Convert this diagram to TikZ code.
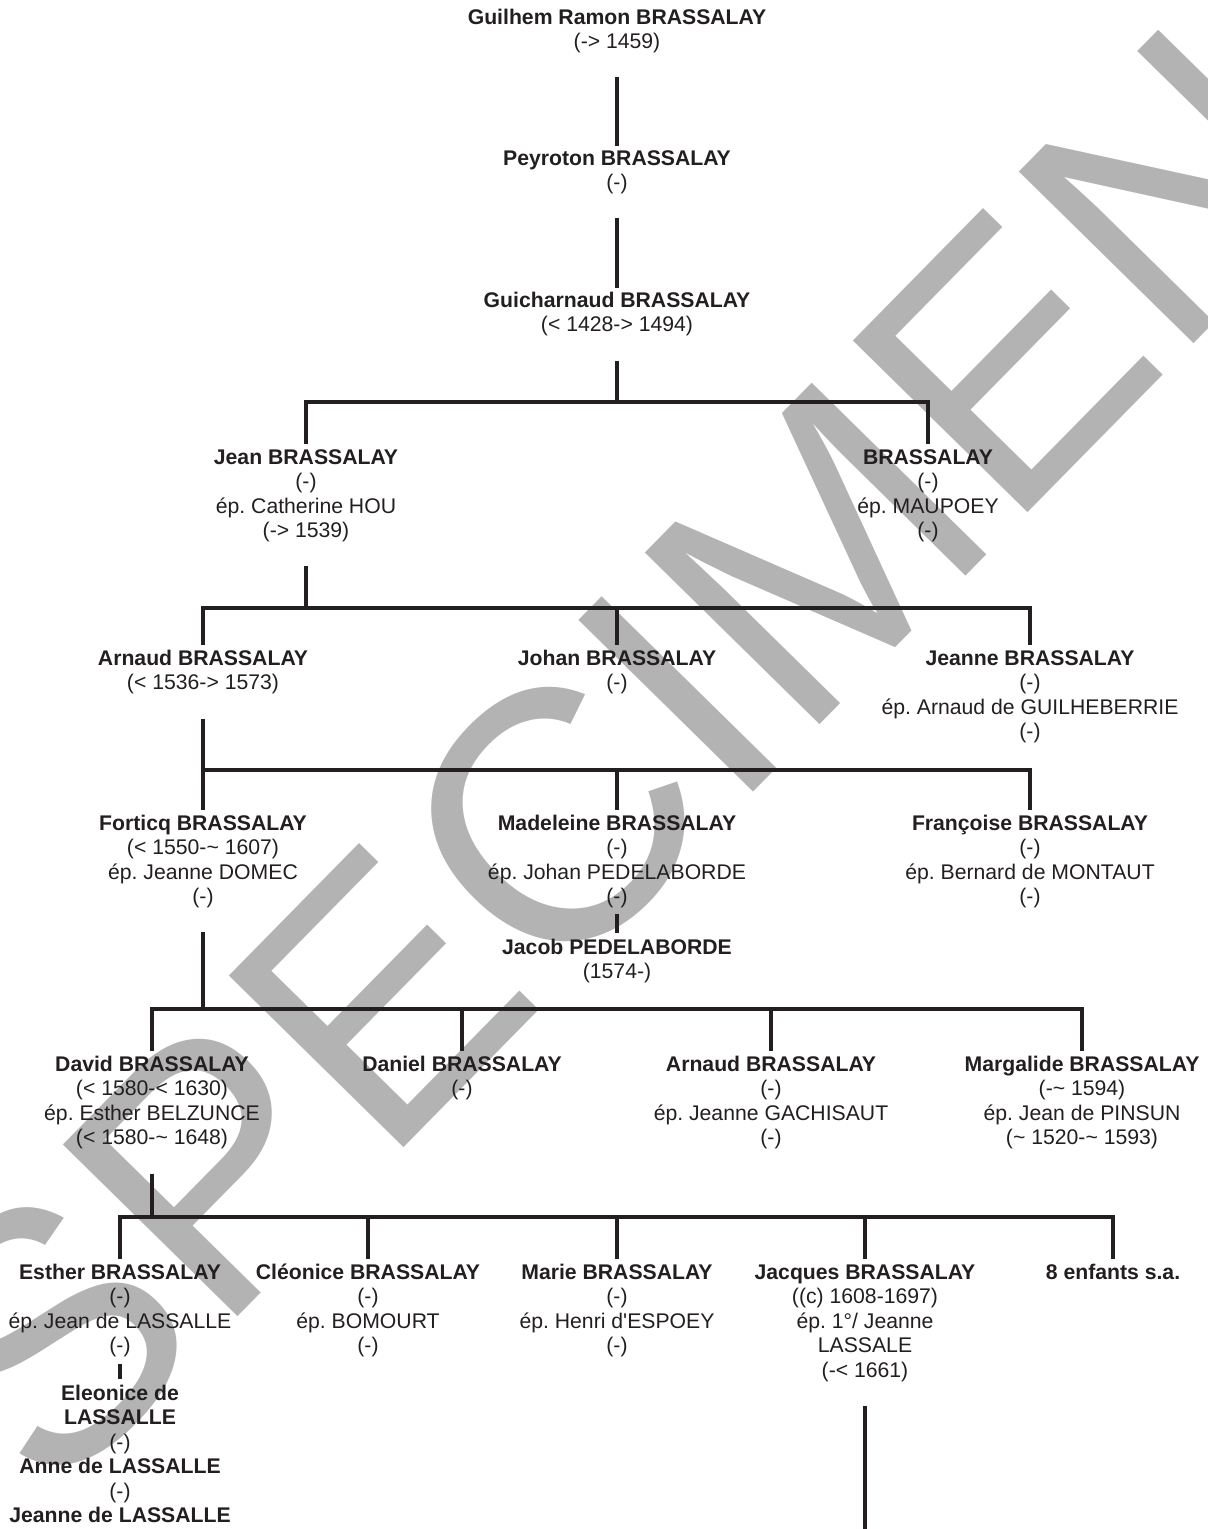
\documentclass[tikz,border=0pt]{standalone}
\usepackage{fontspec}
\setmainfont{Liberation Sans}
\frenchspacing
\definecolor{ink}{HTML}{231F20}
\definecolor{wm}{HTML}{B3B3B3}
\begin{document}
\begin{tikzpicture}[x=0.5pt,y=-0.5pt,
  person/.style={align=center, inner sep=0pt, anchor=base, text=ink,
    font=\fontsize{10.6}{12.2}\selectfont},
  link/.style={draw=ink, line width=2pt},
  fromparent/.style={shorten <=12pt},
  tochild/.style={shorten >=2.5pt},
  watermark/.style={text=wm, inner sep=0pt, font=\fontsize{178}{178}\selectfont}]
\useasboundingbox[fill=white] (0,0) rectangle (1208,1529);
\clip (0,0) rectangle (1208,1529);
% watermark
\node[watermark, rotate=45.5] (wmk) at (615,758) {SPECIMEN};
% (anchor=base is the baseline of the last line of each node)
% generation 1-3
\node[person] (g1) at (617,48.9) {\textbf{Guilhem Ramon BRASSALAY}\\(-> 1459)};
\node[person] (g2) at (617,189.9) {\textbf{Peyroton BRASSALAY}\\(-)};
\node[person] (g3) at (617,331.9) {\textbf{Guicharnaud BRASSALAY}\\(< 1428-> 1494)};
% generation 4
\node[person] (jean) at (306,537.7) {\textbf{Jean BRASSALAY}\\(-)\\ép. Catherine HOU\\(-> 1539)};
\node[person] (maup) at (928,537.7) {\textbf{BRASSALAY}\\(-)\\ép. MAUPOEY\\(-)};
% generation 5
\node[person] (arn) at (203,689.9) {\textbf{Arnaud BRASSALAY}\\(< 1536-> 1573)};
\node[person] (johan) at (617,689.9) {\textbf{Johan BRASSALAY}\\(-)};
\node[person] (jeanne) at (1030,738.7) {\textbf{Jeanne BRASSALAY}\\(-)\\ép. Arnaud de GUILHEBERRIE\\(-)};
% generation 6
\node[person] (fort) at (203,903.7) {\textbf{Forticq BRASSALAY}\\(< 1550-\textasciitilde\ 1607)\\ép. Jeanne DOMEC\\(-)};
\node[person] (made) at (617,903.7) {\textbf{Madeleine BRASSALAY}\\(-)\\ép. Johan PEDELABORDE\\(-)};
\node[person] (jacob) at (617,978.9) {\textbf{Jacob PEDELABORDE}\\(1574-)};
\node[person] (fran) at (1030,903.7) {\textbf{Françoise BRASSALAY}\\(-)\\ép. Bernard de MONTAUT\\(-)};
% generation 7
\node[person] (david) at (152,1144.7) {\textbf{David BRASSALAY}\\(< 1580-< 1630)\\ép. Esther BELZUNCE\\(< 1580-\textasciitilde\ 1648)};
\node[person] (daniel) at (462,1095.9) {\textbf{Daniel BRASSALAY}\\(-)};
\node[person] (arn2) at (771,1144.7) {\textbf{Arnaud BRASSALAY}\\(-)\\ép. Jeanne GACHISAUT\\(-)};
\node[person] (marg) at (1082,1144.7) {\textbf{Margalide BRASSALAY}\\(-\textasciitilde\ 1594)\\ép. Jean de PINSUN\\(\textasciitilde\ 1520-\textasciitilde\ 1593)};
% generation 8
\node[person] (esther) at (120,1352.7) {\textbf{Esther BRASSALAY}\\(-)\\ép. Jean de LASSALLE\\(-)};
\node[person] (eleo) at (120,1449.3) {\textbf{Eleonice de}\\\textbf{LASSALLE}\\(-)};
\node[person] (anne) at (120,1498.1) {\textbf{Anne de LASSALLE}\\(-)};
\node[person] (jeanne2) at (120,1522.5) {\textbf{Jeanne de LASSALLE}};
\node[person] (cleo) at (368,1352.7) {\textbf{Cléonice BRASSALAY}\\(-)\\ép. BOMOURT\\(-)};
\node[person] (marie) at (617,1352.7) {\textbf{Marie BRASSALAY}\\(-)\\ép. Henri d\textquotesingle ESPOEY\\(-)};
\node[person] (jacq) at (865,1377.1) {\textbf{Jacques BRASSALAY}\\((c) 1608-1697)\\ép. 1°/ Jeanne\\LASSALE\\(-< 1661)};
\node[person] (enf) at (1113,1279.5) {\textbf{8 enfants s.a.}};
% bar coordinates
\coordinate (b3) at (617,402);
\coordinate (b4) at (306,608);
\coordinate (b5) at (203,770);
\coordinate (b6) at (203,1009);
\coordinate (b7) at (152,1217);
\coordinate (jend) at (865,1529);
% connectors
\draw[link, shorten <=11.5pt, shorten >=2pt] (g1) -- (g2);
\draw[link, shorten <=11.5pt, shorten >=2pt] (g2) -- (g3);
\draw[link, fromparent] (g3) -- (b3);
\draw[link, shorten <=2.5pt, shorten >=2.5pt] (jean.north) -- (jean.north |- b3) -- (maup.north |- b3) -- (maup.north);
\draw[link, fromparent] (jean) -- (b4);
\draw[link, shorten <=2.5pt, shorten >=2.5pt] (arn.north) -- (arn.north |- b4) -- (jeanne.north |- b4) -- (jeanne.north);
\draw[link, tochild] (johan.north |- b4) -- (johan.north);
\draw[link, fromparent] (arn) -- (b5);
\draw[link, shorten <=2.5pt, shorten >=2.5pt] (fort.north) -- (fort.north |- b5) -- (fran.north |- b5) -- (fran.north);
\draw[link, tochild] (made.north |- b5) -- (made.north);
\draw[link, shorten <=3pt, shorten >=3pt] (made) -- (jacob);
\draw[link, fromparent] (fort) -- (b6);
\draw[link, shorten <=2.5pt, shorten >=2.5pt] (david.north) -- (david.north |- b6) -- (marg.north |- b6) -- (marg.north);
\draw[link, tochild] (daniel.north |- b6) -- (daniel.north);
\draw[link, tochild] (arn2.north |- b6) -- (arn2.north);
\draw[link, fromparent] (david) -- (b7);
\draw[link, shorten <=2.5pt, shorten >=2.5pt] (esther.north) -- (esther.north |- b7) -- (enf.north |- b7) -- (enf.north);
\draw[link, tochild] (cleo.north |- b7) -- (cleo.north);
\draw[link, tochild] (marie.north |- b7) -- (marie.north);
\draw[link, tochild] (jacq.north |- b7) -- (jacq.north);
\draw[link, shorten <=3pt, shorten >=3pt] (esther) -- (eleo);
\draw[link, fromparent] (jacq) -- (jend);
\end{tikzpicture}
\end{document}
